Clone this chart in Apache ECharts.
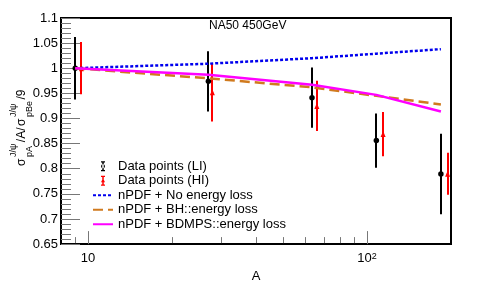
<!DOCTYPE html>
<html><head><meta charset="utf-8">
<script src="https://cdn.jsdelivr.net/npm/echarts@6/dist/echarts.min.js"></script>
<style>html,body{margin:0;padding:0;background:#fff}#c{width:488px;height:288px}</style>
</head><body><div id="c"></div>
<script>
// ---- data ----
const A_LI = [9, 27, 63.5, 108, 184];
const R_LI = [1.0, 0.974, 0.9415, 0.856, 0.7895];
const E_LI = [0.062, 0.060, 0.060, 0.054, 0.080];
const A_HI = [9.47, 27.9, 66.1, 114.2, 194.5];
const R_HI = [1.0, 0.952, 0.925, 0.869, 0.790];
const E_HI = [0.052, 0.058, 0.050, 0.044, 0.042];
const A_CURVE = [9, 27, 63.5, 108, 184];
const NO_LOSS = [1.0, 1.009, 1.020, 1.029, 1.038];
const BH_LOSS = [1.0, 0.980, 0.962, 0.945, 0.928];
const BDMPS_LOSS = [1.0, 0.987, 0.967, 0.947, 0.914];
const X_MINOR_TICKS = [9, 20, 30, 40, 50, 60, 70, 80, 90];
const X_TICK_LABELS = {10: '10', 100: '10{s|2}'};
const NAMES = ['Data points (LI)', 'Data points (HI)', 'nPDF + No energy loss', 'nPDF + BH::energy loss', 'nPDF + BDMPS::energy loss'];
const TITLE = 'NA50 450GeV';
const X_NAME = 'A';
// y title pieces: main text, or [superscript, subscript]
const Y_TITLE_PARTS = ['σ', ['J/ψ', 'pA'], '/A/', 'σ', ['J/ψ', 'pBe'], '/9'];

const FF = "'Liberation Sans', Arial, Helvetica, sans-serif";
// legend icons (marker + error bar with caps), drawn in a 5 x 10 box
const LI_ICON = 'path://M0.5 0L4.5 0L4.5 1.3L3.25 1.3L3.25 8.7L4.5 8.7L4.5 10L0.5 10L0.5 8.7L1.75 8.7L1.75 1.3L0.5 1.3ZM0.5 5A2 2 0 1 0 4.5 5A2 2 0 1 0 0.5 5Z';
const HI_ICON = 'path://M0.5 0L4.5 0L4.5 1.3L3.25 1.3L3.25 8.7L4.5 8.7L4.5 10L0.5 10L0.5 8.7L1.75 8.7L1.75 1.3L0.5 1.3ZM2.5 2.6L4.5 6.4L0.5 6.4Z';

function pairs(xs, ys) { return xs.map((a, i) => [a, ys[i]]); }
function triples(xs, ys, es) { return xs.map((a, i) => [a, ys[i], es[i]]); }

function errRender(color) {
  return function (params, api) {
    const x = api.value(0), y = api.value(1), e = api.value(2);
    const p1 = api.coord([x, y + e]), p2 = api.coord([x, y - e]);
    const xx = Math.round(p1[0]);
    return { type: 'line', shape: { x1: xx, y1: p1[1], x2: xx, y2: p2[1] },
      style: { stroke: color, lineWidth: 2 } };
  };
}
function minorTickRender(params, api) {
  const p = api.coord([api.value(0), api.value(1)]);
  const x = Math.round(p[0]) + 0.5;
  return { type: 'line', shape: { x1: x, y1: p[1] - 1, x2: x, y2: p[1] - 7 },
    style: { stroke: '#777', lineWidth: 1 } };
}

function buildYTitle() {
  const ctx = document.createElement('canvas').getContext('2d');
  const big = 12, small = 9, gap = 1.5;
  const w = (t, s) => { ctx.font = s + 'px ' + FF; return ctx.measureText(t).width; };
  const rich = {};
  let l1 = '', l2 = '', l3 = '';
  Y_TITLE_PARTS.forEach((p, i) => {
    const k = 'p' + i;
    if (typeof p === 'string') {
      const ww = w(p, big) + gap;
      rich[k + 'm'] = { fontSize: big, fontFamily: FF, width: ww, align: 'left', color: '#000' };
      rich[k + 'b'] = { fontSize: small, fontFamily: FF, width: ww, align: 'left', color: '#000' };
      l1 += '{' + k + 'b| }'; l2 += '{' + k + 'm|' + p + '}'; l3 += '{' + k + 'b| }';
    } else {
      const ww = Math.max(w(p[0], small), w(p[1], small)) + gap;
      rich[k + 's'] = { fontSize: small, fontFamily: FF, width: ww, align: 'left', color: '#000' };
      rich[k + 'm'] = { fontSize: big, fontFamily: FF, width: ww, align: 'left', color: '#000' };
      l1 += '{' + k + 's|' + p[0] + '}'; l2 += '{' + k + 'm| }'; l3 += '{' + k + 's|' + p[1] + '}';
    }
  });
  Object.keys(rich).forEach(k => { rich[k].lineHeight = k.endsWith('m') ? 9 : 7; });
  return { type: 'text', x: 22, y: 127, rotation: Math.PI / 2, silent: true,
    style: { text: l1 + '\n' + l2 + '\n' + l3, rich: rich, fontFamily: FF, fill: '#000',
      align: 'center', verticalAlign: 'middle', textAlign: 'center', textVerticalAlign: 'middle' } };
}

const legendLine = name => ({ name: name, itemStyle: { opacity: 0 } });

const chart = echarts.init(document.getElementById('c'), null, { renderer: 'canvas' });
chart.setOption({
  animation: false,
  backgroundColor: '#fff',
  textStyle: { fontFamily: FF },
  title: { text: TITLE, left: 209, top: 20, padding: 0,
    textStyle: { fontSize: 12, fontWeight: 'normal', color: '#000', fontFamily: FF } },
  grid: { left: 61, right: 37, top: 18, bottom: 40, show: true, borderColor: '#000', borderWidth: 2, backgroundColor: 'transparent' },
  legend: {
    orient: 'vertical', left: 92, top: 159, padding: 0, itemWidth: 20, itemHeight: 10, itemGap: 0,
    selectedMode: false, symbolKeepAspect: true,
    textStyle: { fontSize: 13, color: '#000', fontFamily: FF, lineHeight: 14.5 },
    data: [{ name: NAMES[0], icon: LI_ICON, itemStyle: { opacity: 1, color: '#000' } },
           { name: NAMES[1], icon: HI_ICON, itemStyle: { opacity: 1, color: '#ff0000' } },
           legendLine(NAMES[2]), legendLine(NAMES[3]), legendLine(NAMES[4])]
  },
  xAxis: {
    type: 'log', logBase: 10, min: 8, max: 200,
    name: X_NAME, nameLocation: 'middle', nameGap: 17,
    nameTextStyle: { fontSize: 13, color: '#000', fontFamily: FF },
    axisLine: { show: true, lineStyle: { color: '#000', width: 2 } },
    axisTick: { show: true, inside: true, length: 13, lineStyle: { color: '#777', width: 1 } },
    splitLine: { show: false },
    axisLabel: { color: '#000', fontSize: 13, fontFamily: FF, margin: 8, showMinLabel: false, showMaxLabel: false,
      formatter: v => X_TICK_LABELS[Math.round(v)] || '',
      rich: { s: { fontSize: 9, verticalAlign: 'top', color: '#000', fontFamily: FF } } }
  },
  yAxis: {
    type: 'value', min: 0.65, max: 1.1, interval: 0.05,
    axisLine: { show: true, lineStyle: { color: '#000', width: 2 } },
    axisTick: { show: true, inside: true, length: 19, lineStyle: { color: '#777', width: 1 } },
    minorTick: { show: true, splitNumber: 5, length: 10, lineStyle: { color: '#777', width: 1 } },
    splitLine: { show: false },
    axisLabel: { color: '#000', fontSize: 13, fontFamily: FF, margin: 3,
      formatter: v => String(+(+v).toFixed(2)) }
  },
  graphic: [buildYTitle()],
  series: [
    { type: 'custom', name: 'errLI', renderItem: errRender('#000'), data: triples(A_LI, R_LI, E_LI), z: 2, silent: true },
    { type: 'custom', name: 'errHI', renderItem: errRender('#ff0000'), data: triples(A_HI, R_HI, E_HI), z: 2, silent: true },
    { type: 'scatter', name: NAMES[0], data: pairs(A_LI, R_LI), symbol: 'circle', symbolSize: 5.5,
      itemStyle: { color: '#000', opacity: 1 }, z: 3, silent: true },
    { type: 'scatter', name: NAMES[1], data: pairs(A_HI, R_HI), symbol: 'triangle', symbolSize: [5, 6],
      itemStyle: { color: '#ff0000', opacity: 1 }, z: 3, silent: true },
    { type: 'line', name: NAMES[2], data: pairs(A_CURVE, NO_LOSS), symbol: 'none', showSymbol: false,
      lineStyle: { color: '#0000ee', width: 2.5, type: [3, 2] }, itemStyle: { color: '#0000ee' }, z: 4, silent: true },
    { type: 'line', name: NAMES[3], data: pairs(A_CURVE, BH_LOSS), symbol: 'none', showSymbol: false,
      lineStyle: { color: '#d07a1e', width: 2.5, type: [10, 5] }, itemStyle: { color: '#d07a1e' }, z: 4, silent: true },
    { type: 'line', name: NAMES[4], data: pairs(A_CURVE, BDMPS_LOSS), symbol: 'none', showSymbol: false,
      lineStyle: { color: '#ff00ff', width: 2.5 }, itemStyle: { color: '#ff00ff' }, z: 4, silent: true },
    { type: 'custom', name: 'xminor', renderItem: minorTickRender, data: X_MINOR_TICKS.map(a => [a, 0.65]), z: 5, silent: true }
  ]
});
</script></body></html>
